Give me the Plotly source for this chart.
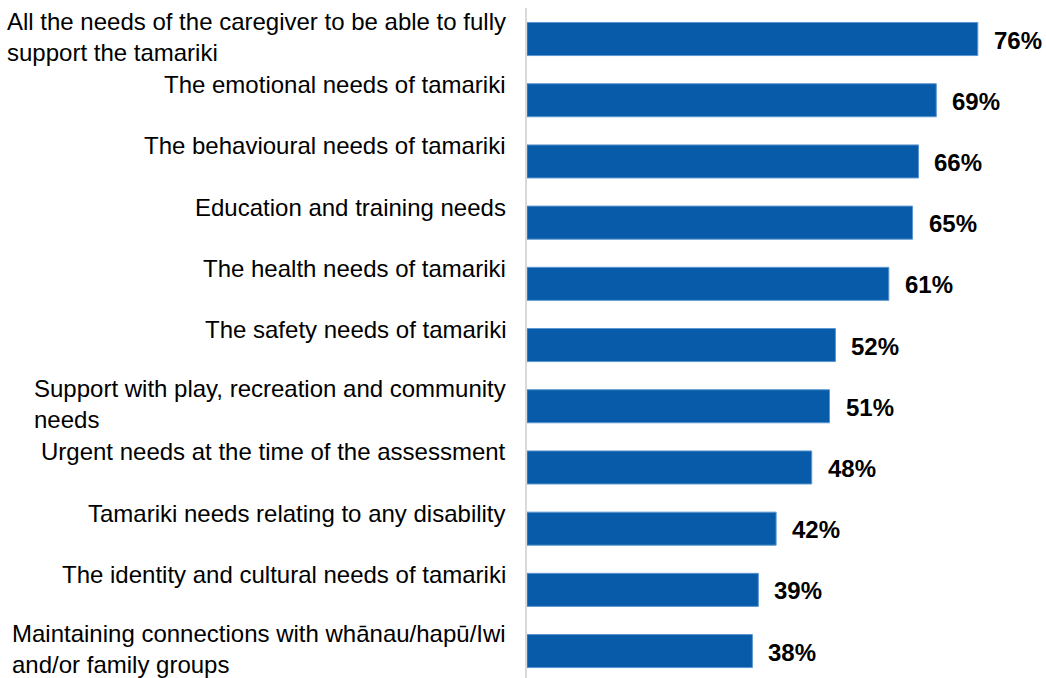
import plotly.graph_objects as go

# Share of respondents for each area of need
categories = [
    "All the needs of the caregiver to be able to fully<br>support the tamariki",
    "The emotional needs of tamariki",
    "The behavioural needs of tamariki",
    "Education and training needs",
    "The health needs of tamariki",
    "The safety needs of tamariki",
    "Support with play, recreation and community<br>needs",
    "Urgent needs at the time of the assessment",
    "Tamariki needs relating to any disability",
    "The identity and cultural needs of tamariki",
    "Maintaining connections with whānau/hapū/Iwi<br>and/or family groups",
]
values = [76, 69, 66, 65, 61, 52, 51, 48, 42, 39, 38]
value_labels = [f"{v}%" for v in values]

BAR_COLOR = "#075BA9"
FONT = "Liberation Sans, Arial, sans-serif"

fig = go.Figure(
    go.Bar(
        x=values,
        y=categories,
        orientation="h",
        width=0.54,
        marker=dict(color=BAR_COLOR, line=dict(color="#5B96D0", width=1)),
        hoverinfo="skip",
    )
)

annotations = []
for cat, val, lab in zip(categories, values, value_labels):
    two_lines = "<br>" in cat
    # category label, block right-aligned to the axis, lines left-aligned
    annotations.append(
        dict(
            x=0, xref="paper", y=cat, yref="y",
            text=cat, showarrow=False,
            xanchor="right", yanchor="top", align="left",
            xshift=-19, yshift=33 if two_lines else 31,
            font=dict(family=FONT, size=24, color="#000000"),
        )
    )
    # value label at the end of each bar
    annotations.append(
        dict(
            x=val, xref="x", y=cat, yref="y",
            text=f"<b>{lab}</b>", showarrow=False,
            xanchor="left", yanchor="middle",
            xshift=14, yshift=-1,
            font=dict(family=FONT, size=24, color="#000000"),
        )
    )

fig.update_layout(
    width=1046,
    height=678,
    margin=dict(l=527, r=0, t=8, b=0),
    paper_bgcolor="white",
    plot_bgcolor="white",
    showlegend=False,
    bargap=0.46,
    xaxis=dict(range=[0, 87.5], visible=False, fixedrange=True),
    yaxis=dict(
        categoryorder="array",
        categoryarray=categories,
        range=[10.44, -0.507],
        showticklabels=False,
        showgrid=False,
        zeroline=False,
        showline=True,
        linecolor="#D9D9D9",
        linewidth=2,
        ticks="",
        fixedrange=True,
    ),
    annotations=annotations,
)

fig.write_html("out.html")
